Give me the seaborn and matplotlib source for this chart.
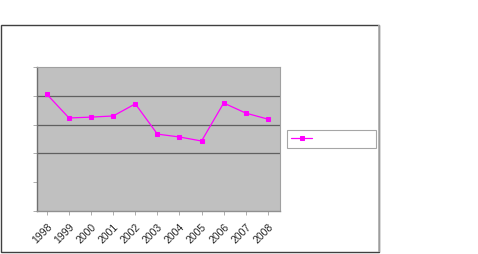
import matplotlib
matplotlib.use("Agg")
import matplotlib.pyplot as plt
import seaborn as sns
import pandas as pd
from matplotlib.patches import Rectangle

years = ["1998", "1999", "2000", "2001", "2002", "2003", "2004", "2005", "2006", "2007", "2008"]
values = [4.05, 3.23, 3.26, 3.30, 3.72, 2.67, 2.57, 2.43, 3.75, 3.40, 3.19]
series_label = " "

sns.set_style("white")
plt.rcParams['font.family'] = ['Liberation Sans', 'DejaVu Sans']

df = pd.DataFrame({"pos": range(len(years)), "year": years, "value": values})

fig = plt.figure(figsize=(4.78, 2.54), dpi=100)
fig.patch.set_facecolor("white")

# outer chart border
fig.patches.append(Rectangle((1/478, 1-252/254), 378/478, 227/254, transform=fig.transFigure,
                             fill=False, edgecolor="#404040", linewidth=1.0))
fig.patches.append(Rectangle((379/478, 1-252/254), 0, 227/254, transform=fig.transFigure,
                             fill=False, edgecolor="#b0b0b0", linewidth=1.2))

ax = fig.add_axes([37/478, 1-211/254, 243/478, 144/254])
ax.set_facecolor("#c0c0c0")

sns.lineplot(data=df, x="pos", y="value", ax=ax, color="#ff00ff", marker="s",
             markersize=3.5, markeredgecolor="#ff00ff", linewidth=0.9, label=series_label)

ax.set_xlim(-0.45, 10.55)
ax.set_ylim(0, 5)
for g in [2, 3, 4]:
    ax.axhline(g, color="#606060", linewidth=0.9, zorder=1)

ax.set_yticks([0, 1, 2, 3, 4, 5])
ax.set_yticklabels([])
ax.set_xticks(range(len(years)))
ax.set_xticklabels(years, rotation=45, ha="right", rotation_mode="anchor", fontsize=7.5)
ax.tick_params(axis="both", length=3, width=0.6, color="#a0a0a0", direction="out", pad=2)
ax.tick_params(axis="x", bottom=True, pad=5)
ax.tick_params(axis="y", left=True)
ax.set_xlabel("")
ax.set_ylabel("")

for side in ["top", "right"]:
    ax.spines[side].set_color("#a0a0a0")
    ax.spines[side].set_linewidth(0.8)
ax.spines["left"].set_color("#707070")
ax.spines["bottom"].set_color("#909090")
ax.spines["left"].set_linewidth(1.0)
ax.spines["bottom"].set_linewidth(1.0)

leg = ax.legend(loc="upper left", bbox_to_anchor=(287/478, 1-147/254, 89/478, 17/254),
                bbox_transform=fig.transFigure, mode="expand", frameon=True,
                fancybox=False, handlelength=2.2, fontsize=7, borderaxespad=0)
leg.get_frame().set_edgecolor("#909090")
leg.get_frame().set_linewidth(0.8)

fig.savefig("out.png", dpi=100)
